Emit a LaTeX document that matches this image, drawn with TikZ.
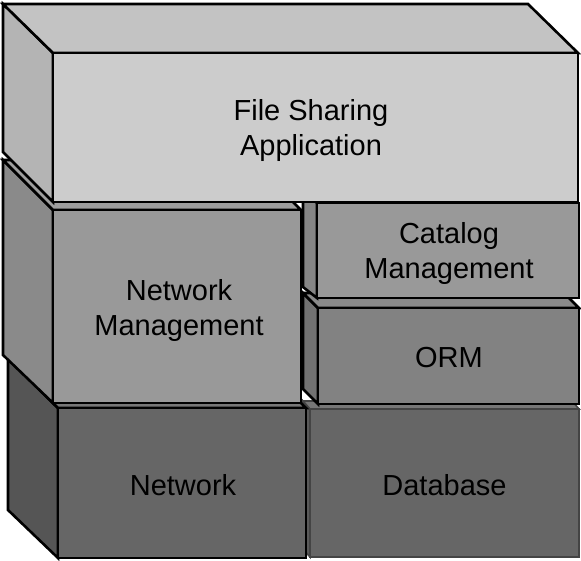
\documentclass[tikz,border=0pt]{standalone}
\usepackage{fontspec}
\setmainfont{Liberation Sans}
\definecolor{topF}{HTML}{CCCCCC}
\definecolor{topS}{HTML}{B4B4B4}
\definecolor{topT}{HTML}{C3C3C3}
\definecolor{nmF}{HTML}{999999}
\definecolor{nmS}{HTML}{8A8A8A}
\definecolor{nmT}{HTML}{9E9E9E}
\definecolor{netF}{HTML}{666666}
\definecolor{netS}{HTML}{555555}
\definecolor{netT}{HTML}{777777}
\definecolor{ormF}{HTML}{828282}
\definecolor{ormS}{HTML}{727272}
\definecolor{ormT}{HTML}{8A8A8A}
\definecolor{catF}{HTML}{999999}
\definecolor{catS}{HTML}{858585}
\definecolor{dbF}{HTML}{666666}
\definecolor{dbS}{HTML}{5A5A5A}
\definecolor{dbB}{HTML}{444444}
\tikzset{
  face/.style={draw=black, line width=2.6pt},
  dbface/.style={draw=dbB, line width=1.6pt},
  lbl/.style={font=\fontsize{29}{35}\selectfont, align=center, inner sep=0pt, text=black}
}
\begin{document}
\begin{tikzpicture}[x=1pt,y=-1pt]
\useasboundingbox (0,0) rectangle (581,561);
% Database
\filldraw[dbface, fill=dbS] (303,401) -- (310,409) -- (310,557) -- (303,549) -- cycle;
\filldraw[dbface, fill=netT] (303,401) -- (572,401) -- (579,409) -- (310,409) -- cycle;
\filldraw[dbface, fill=dbF] (310,409) rectangle (579,557);
\node[lbl] (db) at (444.5,485.5) {Database};
% Network
\filldraw[face, fill=netS] (8,358) -- (58,408) -- (58,558) -- (8,510) -- cycle;
\filldraw[face, fill=netT] (8,358) -- (256,358) -- (306,408) -- (58,408) -- cycle;
\filldraw[face, fill=netF] (58,408) rectangle (306,558);
\node[lbl] (net) at (183,485.5) {Network};
% ORM
\filldraw[face, fill=ormS] (303,293) -- (318,308) -- (318,404) -- (303,389) -- cycle;
\filldraw[face, fill=ormT] (303,293) -- (564,293) -- (579,308) -- (318,308) -- cycle;
\filldraw[face, fill=ormF] (318,308) rectangle (579,404);
\node[lbl] (orm) at (449,358) {ORM};
% Network Management
\filldraw[face, fill=nmS] (3,160) -- (53,210) -- (53,403) -- (3,355) -- cycle;
\filldraw[face, fill=nmT] (3,160) -- (251,160) -- (301,210) -- (53,210) -- cycle;
\filldraw[face, fill=nmF] (53,210) rectangle (301,403);
\node[lbl] (nm) at (179,310.5) {Network\\Management};
% Catalog Management
\filldraw[face, fill=catS] (303,192) -- (317,203) -- (317,298) -- (303,287) -- cycle;
\filldraw[face, fill=catF] (317,203) rectangle (579,298);
\node[lbl] (cat) at (449,254) {Catalog\\Management};
% File Sharing Application
\filldraw[face, fill=topS] (3,4) -- (53,53) -- (53,202) -- (3,152) -- cycle;
\filldraw[face, fill=topT] (3,4) -- (528,4) -- (578,53) -- (53,53) -- cycle;
\filldraw[face, fill=topF] (53,53) rectangle (578,202);
\node[lbl] (fsa) at (311,131) {File Sharing\\Application};
\end{tikzpicture}
\end{document}
